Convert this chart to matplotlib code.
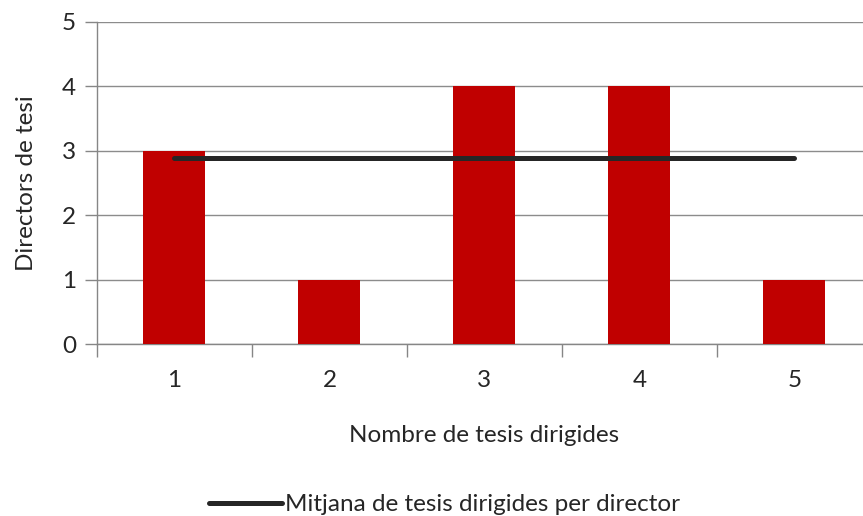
import numpy as np
import matplotlib
matplotlib.use('Agg')
from matplotlib import pyplot as plt

# thesis counts per director
categories = ['1', '2', '3', '4', '5']
directors = [3, 1, 4, 4, 1]
mean_value = 2.89
y_ticks = [0, 1, 2, 3, 4, 5]

plt.rcParams['font.family'] = ['Lato', 'DejaVu Sans']
fs = 17.5

fig = plt.figure(figsize=(8.63, 5.16), dpi=100)
ax = fig.add_axes([0.1124, 0.3333, 0.898, 0.6241])

x = np.arange(len(categories))
ax.bar(x, directors, width=0.4, color='#c00000', zorder=3)
mean_line, = ax.plot([x[0], x[-1]], [mean_value, mean_value], color='#262626',
                     linewidth=3.6, solid_capstyle='round', zorder=4,
                     label='Mitjana de tesis dirigides per director')

ax.set_xlim(-0.5, len(categories) - 0.5)
ax.set_ylim(0, 5)
ax.set_yticks(y_ticks)
ax.set_xticks(x)
ax.set_xticklabels(categories)
ax.set_xticks(np.arange(-0.5, len(categories)), minor=True)
ax.tick_params(axis='x', which='major', length=0, pad=19, labelsize=fs, colors='#262626')
ax.tick_params(axis='x', which='minor', length=9, color='#868686', width=1)
ax.tick_params(axis='y', length=9, color='#868686', width=1, labelsize=fs, colors='#262626', pad=6)
ax.tick_params(axis='y', color='#868686')

ax.grid(axis='y', color='#8c8c8c', linewidth=1, zorder=0)
for side in ['top', 'right']:
    ax.spines[side].set_visible(False)
for side in ['left', 'bottom']:
    ax.spines[side].set_color('#868686')
    ax.spines[side].set_linewidth(1)

ax.set_xlabel('Nombre de tesis dirigides', fontsize=fs, color='#262626', labelpad=24)
ax.set_ylabel('Directors de tesi', fontsize=fs, color='#262626', labelpad=18)

fig.legend(handles=[mean_line], loc='center', bbox_to_anchor=(0.515, 0.022),
           frameon=False, fontsize=fs, handlelength=3.0, handletextpad=0.1,
           labelcolor='#262626')

fig.savefig('out.png', dpi=100)
